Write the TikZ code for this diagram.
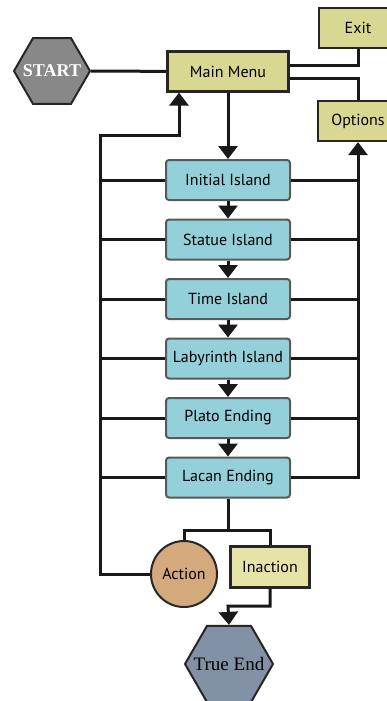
\documentclass[tikz,border=0pt]{standalone}
\usepackage{fontspec}
\setmainfont{PT Sans}
\newfontfamily\serifface{Liberation Serif}
\usepackage{xcolor}
\usetikzlibrary{positioning,arrows.meta,shapes.geometric}

\definecolor{menuyellow}{HTML}{D8D892}
\definecolor{inactionyellow}{HTML}{E5E3A6}
\definecolor{islandblue}{HTML}{93D0DA}
\definecolor{actiontan}{HTML}{D4AA7C}
\definecolor{startgray}{HTML}{888888}
\definecolor{endblue}{HTML}{8391A6}

\begin{document}
\begin{tikzpicture}[
    x=1pt, y=-1pt,
    node distance=17.5pt,
    font=\fontsize{16}{18}\selectfont,
    menubox/.style={
        draw=black!85,
        line width=2.2pt,
        fill=menuyellow,
        minimum height=40pt,
        inner sep=2pt
    },
    island/.style={
        draw=black!65,
        line width=2pt,
        rounded corners=3pt,
        fill=islandblue,
        minimum width=124pt,
        minimum height=40pt
    },
    hexa/.style={
        regular polygon,
        regular polygon sides=6,
        draw=black!85,
        line width=2pt,
        inner sep=0pt
    },
    line/.style={line width=3pt, black!90},
    arrow/.style={line, -{Triangle[width=19pt,length=13pt]}}
]
\useasboundingbox[fill=white] (0,0) rectangle (386,701);

\node[hexa, minimum size=76pt, fill=startgray, text=white,
      font=\serifface\bfseries\fontsize{18}{20}\selectfont] (start) at (52,71) {\makebox[0pt]{START}};

\node[menubox, minimum width=121pt] (menu) at (228,71.5) {Main Menu};
\node[menubox, minimum width=78pt] (exit) at (358,28) {Exit};
\node[menubox, minimum width=80pt] (options) at (358,121) {Options};

\node[island] (initial) at (228,180) {Initial Island};
\node[island, below=of initial] (statue) {Statue Island};
\node[island, below=of statue] (time) {Time Island};
\node[island, below=of time] (labyrinth) {Labyrinth Island};
\node[island, below=of labyrinth] (plato) {Plato Ending};
\node[island, below=of plato] (lacan) {Lacan Ending};

\node[circle, draw=black!85, line width=2pt, fill=actiontan,
      minimum size=66pt, inner sep=0pt] (action) at (184,574) {Action};
\node[menubox, fill=inactionyellow, minimum width=79pt, minimum height=41pt] (inaction) at (270,567) {Inaction};

\node[hexa, minimum size=88pt, fill=endblue,
      font=\serifface\fontsize{19}{21}\selectfont] (trueend) at (229,664) {\makebox[0pt]{True End}};

\coordinate (leftbus) at (100,135);
\coordinate (split) at (228,530);
\coordinate (merge) at (228,606);

% menu links
\draw[line] (start) -- (menu);
\draw[line] ([yshift=6pt]menu.east) -| (exit.south);
\draw[line] ([yshift=-7pt]menu.east) -| (options.north);
\draw[arrow] (menu) -- (initial);

% island chain
\foreach \a/\b in {initial/statue, statue/time, time/labyrinth, labyrinth/plato, plato/lacan}
    \draw[arrow] (\a) -- (\b);

% buses back to the menu and options
\foreach \n in {initial, statue, time, labyrinth, plato, lacan}
    \draw[line] (\n.west) -- (\n.west -| leftbus);
\foreach \n in {initial, statue, time, labyrinth, plato}
    \draw[line] (\n.east) -- (\n.east -| options);
\draw[arrow] (lacan.east) -| (options.south);
\draw[arrow] (action.west) -| (leftbus) -| ([xshift=-49pt]menu.south);

% endings
\draw[line] (lacan) -- (split);
\draw[line] (action.north) |- (split) -| (inaction.north);
\draw[arrow] (inaction.south) |- (merge) -- (trueend.north);

\end{tikzpicture}
\end{document}
